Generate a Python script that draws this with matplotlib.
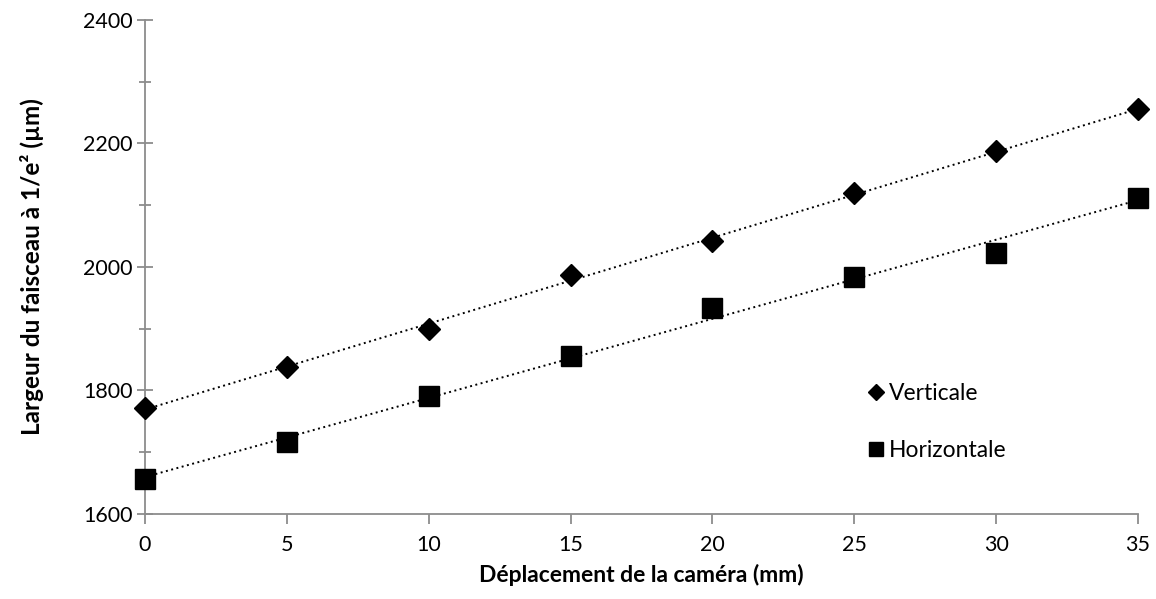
import numpy as np
import matplotlib
matplotlib.use("Agg")
import matplotlib.pyplot as plt
from matplotlib.ticker import MultipleLocator

# data
deplacement = [0, 5, 10, 15, 20, 25, 30, 35]
verticale = [1771, 1838, 1900, 1987, 2042, 2119, 2187, 2255]
horizontale = [1656, 1716, 1790, 1856, 1934, 1983, 2023, 2112]

plt.rcParams['font.family'] = ['Lato', 'DejaVu Sans']

fig = plt.figure(figsize=(11.56, 5.99), dpi=100)
ax = fig.add_axes([0.1254, 0.1424, 0.8590, 0.8242])

x = np.array(deplacement)
# linear trendlines (dotted), like the excel ones
for serie in (verticale, horizontale):
    a, b = np.polyfit(x, serie, 1)
    ax.plot(x, a * x + b, color='black', linestyle=(0, (1, 1.8)), linewidth=1.4,
            zorder=2, clip_on=False)

ax.plot(x, verticale, linestyle='none', marker='D', markersize=11,
        color='black', label='Verticale', zorder=3, clip_on=False)
ax.plot(x, horizontale, linestyle='none', marker='s', markersize=14.4,
        color='black', label='Horizontale', zorder=3, clip_on=False)

ax.set_xlim(0, 35)
ax.set_ylim(1600, 2400)
ax.xaxis.set_major_locator(MultipleLocator(5))
ax.yaxis.set_major_locator(MultipleLocator(200))
ax.yaxis.set_minor_locator(MultipleLocator(100))

for s in ('top', 'right'):
    ax.spines[s].set_visible(False)
for s in ('left', 'bottom'):
    ax.spines[s].set_color('#8c8c8c')
    ax.spines[s].set_linewidth(1.3)
    ax.spines[s].set_zorder(1)

ax.tick_params(axis='y', which='major', direction='inout', length=12, width=1.3,
               color='#8c8c8c', labelsize=15.5, pad=3)
ax.tick_params(axis='y', which='minor', direction='inout', length=9, width=1.3,
               color='#8c8c8c')
ax.tick_params(axis='x', which='major', direction='out', length=7, width=1.3,
               color='#8c8c8c', labelsize=15.5, pad=8)

ax.set_xlabel('Déplacement de la caméra (mm)', fontsize=16.5, fontweight='bold', labelpad=7)
ax.set_ylabel('Largeur du faisceau à 1/e² (µm)', fontsize=17.5, fontweight='bold', labelpad=28)

leg = ax.legend(loc='upper left', bbox_to_anchor=(0.719, 0.283), frameon=False,
                fontsize=16.5, handlelength=0.7, handletextpad=0.2,
                labelspacing=1.55, markerscale=0.7, borderaxespad=0)

fig.savefig('out.png', dpi=100)
